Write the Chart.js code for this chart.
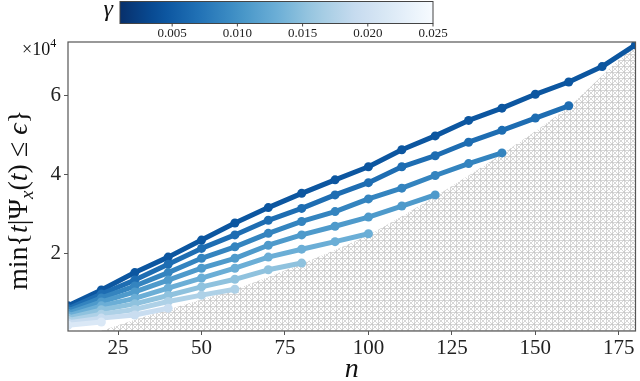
<!DOCTYPE html>
<html>
<head>
<meta charset="utf-8">
<script src="https://cdn.jsdelivr.net/npm/chart.js@4"></script>
<style>
html, body { margin: 0; padding: 0; background: #fff; }
</style>
</head>
<body>
<canvas id="chart" width="640" height="381"></canvas>
<script>
// n values (x axis)
var nValues = [10, 20, 30, 40, 50, 60, 70, 80, 90, 100, 110, 120, 130, 140, 150, 160, 170, 180];

// min{t | Psi_x(t) <= eps}, in units of 1e4, one array per gamma
var s1 = [0.69, 1.09, 1.53, 1.92, 2.35, 2.78, 3.17, 3.53, 3.87, 4.20, 4.63, 4.98, 5.37, 5.68, 6.03, 6.34, 6.73, 7.28];
var s2 = [0.62, 0.99, 1.34, 1.74, 2.14, 2.48, 2.85, 3.15, 3.49, 3.80, 4.20, 4.48, 4.82, 5.12, 5.43, 5.74];
var s3 = [0.56, 0.89, 1.19, 1.53, 1.89, 2.18, 2.52, 2.82, 3.07, 3.39, 3.66, 3.98, 4.28, 4.55];
var s4 = [0.50, 0.79, 1.04, 1.34, 1.64, 1.89, 2.22, 2.48, 2.70, 2.93, 3.21, 3.49];
var s5 = [0.44, 0.69, 0.88, 1.14, 1.39, 1.64, 1.92, 2.12, 2.31, 2.51];
var s6 = [0.38, 0.59, 0.74, 0.95, 1.17, 1.36, 1.60, 1.77];
var s7 = [0.32, 0.48, 0.60, 0.80, 0.96, 1.11];
var s8 = [0.26, 0.38, 0.46, 0.63];
var s9 = [0.20, 0.28];
var series = [s1, s2, s3, s4, s5, s6, s7, s8, s9];
var gammas = [0.0045, 0.0066, 0.0087, 0.0109, 0.0130, 0.0151, 0.0172, 0.0194, 0.0215];

// lower edge of the hatched (unreachable) region
var boundaryN = [10, 20, 30, 40, 50, 60, 70, 80, 90, 100, 110, 120, 130, 140, 150, 160, 170, 180];
var boundaryV = [0.055, 0.06, 0.34, 0.60, 0.85, 1.10, 1.42, 1.75, 2.10, 2.47, 2.95, 3.45, 3.98, 4.52, 5.10, 5.70, 6.50, 7.30];

var xTicks = [25, 50, 75, 100, 125, 150, 175];
var yTicks = [2, 4, 6];
var cbTicks = [0.005, 0.010, 0.015, 0.020, 0.025];
var cbMin = 0.001, cbMax = 0.025;

var serif = "'Liberation Serif', 'DejaVu Serif', serif";

// matplotlib Blues
var bluesStops = ['#f7fbff', '#deebf7', '#c6dbef', '#9ecae1', '#6baed6', '#4292c6', '#2171b5', '#08519c', '#08306b'];
function hexRgb(h) {
    return [parseInt(h.substr(1, 2), 16), parseInt(h.substr(3, 2), 16), parseInt(h.substr(5, 2), 16)];
}
function bluesR(t) {
    var u = Math.max(0, Math.min(1, 1 - t)) * 8;
    var i = Math.min(7, Math.floor(u));
    var f = u - i;
    var a = hexRgb(bluesStops[i]), b = hexRgb(bluesStops[i + 1]);
    return 'rgb(' + Math.round(a[0] + (b[0] - a[0]) * f) + ',' + Math.round(a[1] + (b[1] - a[1]) * f) + ',' + Math.round(a[2] + (b[2] - a[2]) * f) + ')';
}
function gammaColor(g) { return bluesR((g - cbMin) / (cbMax - cbMin)); }

// hatch pattern
function makeHatch() {
    var c = document.createElement('canvas');
    c.width = 6; c.height = 6;
    var g = c.getContext('2d');
    g.fillStyle = '#fff';
    g.fillRect(0, 0, 6, 6);
    g.strokeStyle = '#c6c6c6';
    g.lineWidth = 0.7;
    g.beginPath();
    g.moveTo(0.5, 0); g.lineTo(0.5, 6);
    g.moveTo(0, 0.5); g.lineTo(6, 0.5);
    g.moveTo(0, 0); g.lineTo(6, 6);
    g.moveTo(6, 0); g.lineTo(0, 6);
    g.stroke();
    return g.createPattern(c, 'repeat');
}

var datasets = series.map(function(s, k) {
    var col = gammaColor(gammas[k]);
    return {
        label: 'gamma=' + gammas[k],
        data: s.map(function(v, i) { return { x: nValues[i], y: v }; }),
        borderColor: col,
        backgroundColor: col,
        borderWidth: 5,
        pointRadius: 4.5,
        pointHoverRadius: 4.5,
        pointBorderWidth: 0,
        borderCapStyle: 'round',
        borderJoinStyle: 'round',
        fill: false,
        order: series.length - k,
        clip: 0
    };
});
datasets.push({
    label: 'region',
    data: boundaryN.map(function(n, i) { return { x: n, y: boundaryV[i] }; }),
    borderWidth: 0,
    borderColor: 'rgba(0,0,0,0)',
    backgroundColor: makeHatch(),
    pointRadius: 0,
    fill: 'start',
    order: 100
});

var decor = {
    id: 'decor',
    afterDatasetsDraw: function(chart) {
        var a = chart.chartArea, ctx = chart.ctx;
        ctx.save();
        ctx.strokeStyle = '#555';
        ctx.lineWidth = 1.2;
        ctx.strokeRect(a.left, a.top, a.right - a.left, a.bottom - a.top);
        ctx.restore();
    },
    afterDraw: function(chart) {
        var ctx = chart.ctx, a = chart.chartArea;
        ctx.save();
        ctx.fillStyle = '#111';

        // x title
        ctx.font = 'italic 28px ' + serif;
        ctx.textAlign = 'center';
        ctx.textBaseline = 'alphabetic';
        ctx.fillText('n', (a.left + a.right) / 2, 377);

        // x10^4
        ctx.textAlign = 'left';
        ctx.font = '18px ' + serif;
        ctx.fillText('\u00d710', 22, 55);
        var w = ctx.measureText('\u00d710').width;
        ctx.font = '12px ' + serif;
        ctx.fillText('4', 22 + w, 47);

        // y title
        var parts = [
            ['min', 'normal', 28, 0], ['{', 'normal', 28, 0], ['t', 'italic', 28, 0], ['|\u03a8', 'normal', 28, 0],
            ['x', 'italic', 19, 6], ['(', 'normal', 28, 0], ['t', 'italic', 28, 0], [') \u2264 ', 'normal', 28, 0],
            ['\u03f5', 'italic', 28, 0], ['}', 'normal', 28, 0]
        ];
        var total = 0;
        parts.forEach(function(p) {
            ctx.font = p[1] + ' ' + p[2] + 'px ' + serif;
            p.push(ctx.measureText(p[0]).width);
            total += p[4];
        });
        ctx.translate(27, 200);
        ctx.rotate(-Math.PI / 2);
        var x = -total / 2;
        parts.forEach(function(p) {
            ctx.font = p[1] + ' ' + p[2] + 'px ' + serif;
            ctx.fillText(p[0], x, p[3]);
            x += p[4];
        });
        ctx.setTransform(1, 0, 0, 1, 0, 0);

        // colorbar
        var cbL = 120, cbR = 433, cbT = 1.5, cbB = 23.5;
        var grad = ctx.createLinearGradient(cbL, 0, cbR, 0);
        for (var i = 0; i <= 20; i++) grad.addColorStop(i / 20, bluesR(i / 20));
        ctx.fillStyle = grad;
        ctx.fillRect(cbL, cbT, cbR - cbL, cbB - cbT);
        ctx.strokeStyle = '#444';
        ctx.lineWidth = 1;
        ctx.strokeRect(cbL, cbT, cbR - cbL, cbB - cbT);
        ctx.fillStyle = '#222';
        ctx.font = '13px ' + serif;
        ctx.textAlign = 'center';
        ctx.textBaseline = 'middle';
        cbTicks.forEach(function(g) {
            var px = cbL + (g - cbMin) / (cbMax - cbMin) * (cbR - cbL);
            ctx.beginPath();
            ctx.moveTo(px, cbB); ctx.lineTo(px, cbB + 3);
            ctx.stroke();
            ctx.fillText(g.toFixed(3), px, 34);
        });
        ctx.font = 'italic 24px ' + serif;
        ctx.textAlign = 'right';
        ctx.textBaseline = 'alphabetic';
        ctx.fillStyle = '#111';
        ctx.fillText('\u03b3', 113, 16);
        ctx.restore();
    }
};

new Chart(document.getElementById('chart'), {
    type: 'line',
    data: { datasets: datasets },
    options: {
        responsive: false,
        animation: false,
        events: [],
        layout: { padding: { left: 0, right: 1, top: 42, bottom: 0 } },
        plugins: { legend: { display: false }, tooltip: { enabled: false } },
        scales: {
            x: {
                type: 'linear',
                min: 10,
                max: 180,
                afterBuildTicks: function(s) { s.ticks = xTicks.map(function(v) { return { value: v }; }); },
                afterFit: function(s) { s.height = 50; },
                border: { display: false },
                grid: { drawOnChartArea: false, tickLength: 4, color: '#555' },
                ticks: { padding: 1, color: '#222', font: { family: serif, size: 21 }, maxRotation: 0 }
            },
            y: {
                type: 'linear',
                min: 0.055,
                max: 7.35,
                afterBuildTicks: function(s) { s.ticks = yTicks.map(function(v) { return { value: v }; }); },
                afterFit: function(s) { s.width = 68; },
                border: { display: false },
                grid: { drawOnChartArea: false, tickLength: 4, color: '#555' },
                ticks: { padding: 3, color: '#222', font: { family: serif, size: 21 } }
            }
        }
    },
    plugins: [decor]
});
</script>
</body>
</html>
